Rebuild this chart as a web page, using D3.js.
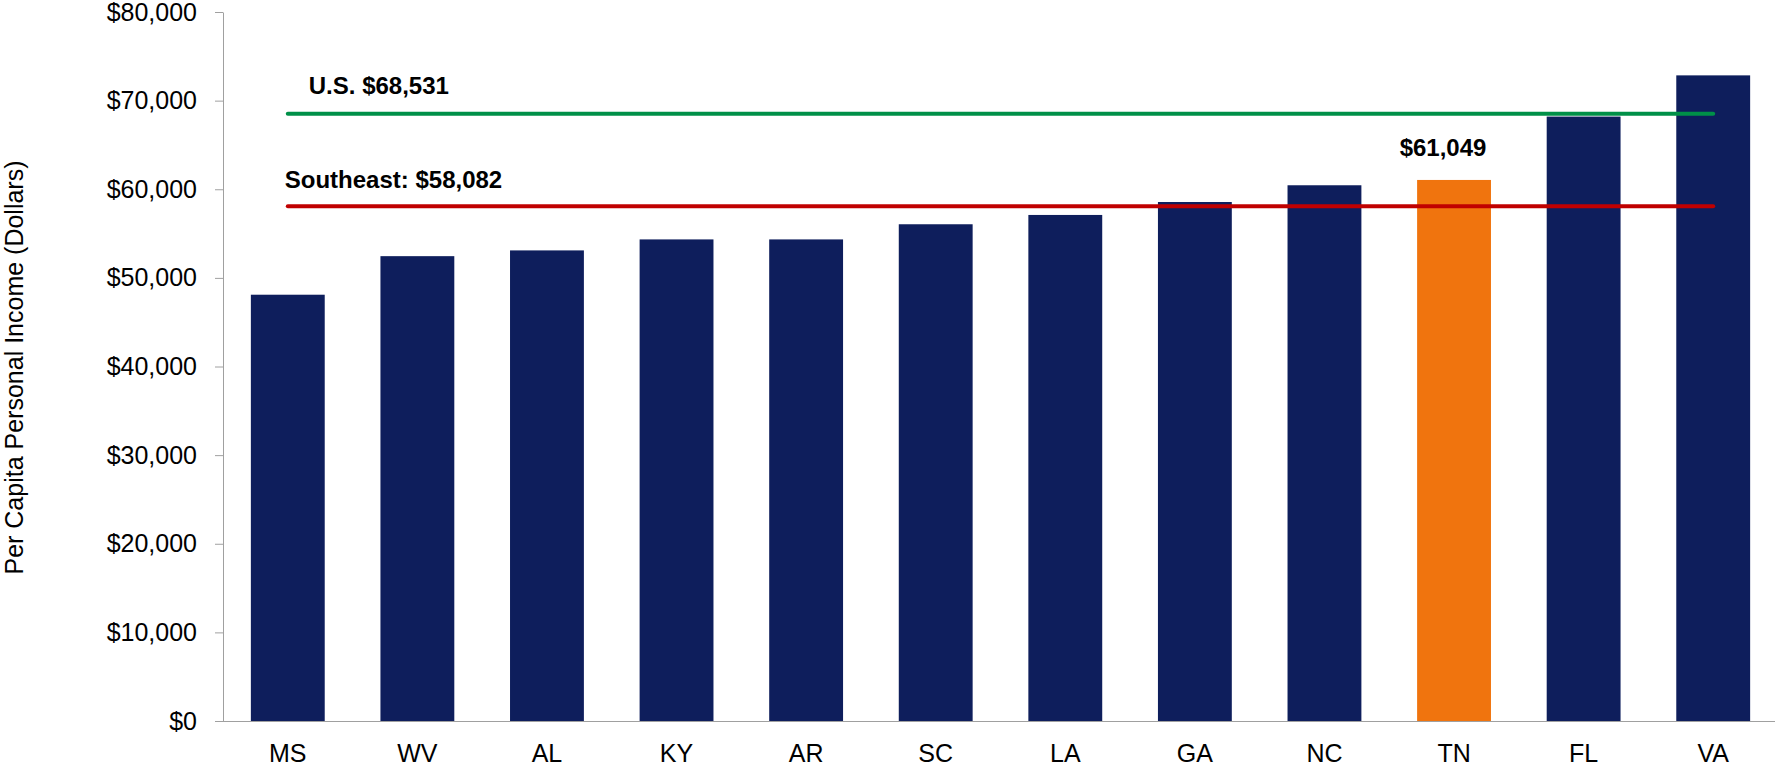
<!DOCTYPE html>
<html>
<head>
<meta charset="utf-8">
<script src="https://cdn.jsdelivr.net/npm/d3@7"></script>
<style>
    body { margin: 0; background: #fff; }
    svg { display: block; font-family: Arial, 'Liberation Sans', sans-serif; }
    .axis path, .axis line { stroke: #a0a0a0; }
</style>
</head>
<body>
<div id="chart"></div>
<script>
const states = ['MS', 'WV', 'AL', 'KY', 'AR', 'SC', 'LA', 'GA', 'NC', 'TN', 'FL', 'VA']
const income = [48100, 52450, 53100, 54340, 54340, 56050, 57100, 58560, 60450, 61049, 68200, 72850]
const highlight = 'TN'
const yTicks = [0, 10000, 20000, 30000, 40000, 50000, 60000, 70000, 80000]
const usValue = 68531
const southeastValue = 58082

const width = 1775
const height = 768
const margin = { top: 12, right: -3, bottom: 47, left: 223 }

const svg = d3.select('#chart')
    .append('svg')
    .attr('width', width)
    .attr('height', height)

const x = d3.scaleBand()
    .domain(states)
    .range([margin.left, width - margin.right])
    .paddingInner(0.43)
    .paddingOuter(0.215)

const y = d3.scaleLinear()
    .domain([0, 80000])
    .range([height - margin.bottom, margin.top])

// y axis
const yAxis = svg.append('g')
    .attr('class', 'axis')
    .attr('transform', `translate(${margin.left}, 0)`)
    .call(d3.axisLeft(y).tickValues(yTicks).tickSize(8).tickSizeOuter(0).tickPadding(18)
        .tickFormat(d => '$' + d3.format(',')(d)))
yAxis.selectAll('text')
    .style('font-size', '25px')
    .style('fill', '#000')
    .attr('font-family', null)

// bars
svg.append('g')
    .selectAll('rect')
    .data(states)
    .join('rect')
    .attr('x', d => x(d))
    .attr('y', (d, i) => y(income[i]))
    .attr('width', x.bandwidth())
    .attr('height', (d, i) => y(0) - y(income[i]))
    .attr('fill', d => d === highlight ? '#f0740e' : '#0e1e5c')

// x axis line + labels
svg.append('line')
    .attr('x1', margin.left - 8)
    .attr('x2', width)
    .attr('y1', y(0) + 0.5)
    .attr('y2', y(0) + 0.5)
    .attr('stroke', '#a0a0a0')

svg.append('g')
    .selectAll('text')
    .data(states)
    .join('text')
    .attr('x', d => x(d) + x.bandwidth() / 2)
    .attr('y', y(0) + 41)
    .attr('text-anchor', 'middle')
    .style('font-size', '25px')
    .text(d => d)

// reference lines
const lineX1 = x(states[0]) + x.bandwidth() / 2
const lineX2 = x(states[states.length - 1]) + x.bandwidth() / 2

svg.append('line')
    .attr('x1', lineX1).attr('x2', lineX2)
    .attr('y1', y(usValue)).attr('y2', y(usValue))
    .attr('stroke', '#009048')
    .attr('stroke-width', 4)
    .attr('stroke-linecap', 'round')

svg.append('line')
    .attr('x1', lineX1).attr('x2', lineX2)
    .attr('y1', y(southeastValue)).attr('y2', y(southeastValue))
    .attr('stroke', '#c00000')
    .attr('stroke-width', 4)
    .attr('stroke-linecap', 'round')

const fmt = d => '$' + d3.format(',')(d)

svg.append('text')
    .attr('x', lineX1 + 21)
    .attr('y', y(usValue) - 20)
    .style('font-size', '24px')
    .style('font-weight', 'bold')
    .text('U.S. ' + fmt(usValue))

svg.append('text')
    .attr('x', lineX1 - 3)
    .attr('y', y(southeastValue) - 18)
    .style('font-size', '24px')
    .style('font-weight', 'bold')
    .text('Southeast: ' + fmt(southeastValue))

const hi = states.indexOf(highlight)
svg.append('text')
    .attr('x', x(highlight) + x.bandwidth() / 2 - 11)
    .attr('y', y(income[hi]) - 24)
    .attr('text-anchor', 'middle')
    .style('font-size', '24px')
    .style('font-weight', 'bold')
    .text(fmt(income[hi]))

// y axis title
svg.append('text')
    .attr('transform', `translate(23, ${(margin.top + y(0)) / 2 + 1}) rotate(-90)`)
    .attr('text-anchor', 'middle')
    .style('font-size', '25px')
    .text('Per Capita Personal Income (Dollars)')
</script>
</body>
</html>
